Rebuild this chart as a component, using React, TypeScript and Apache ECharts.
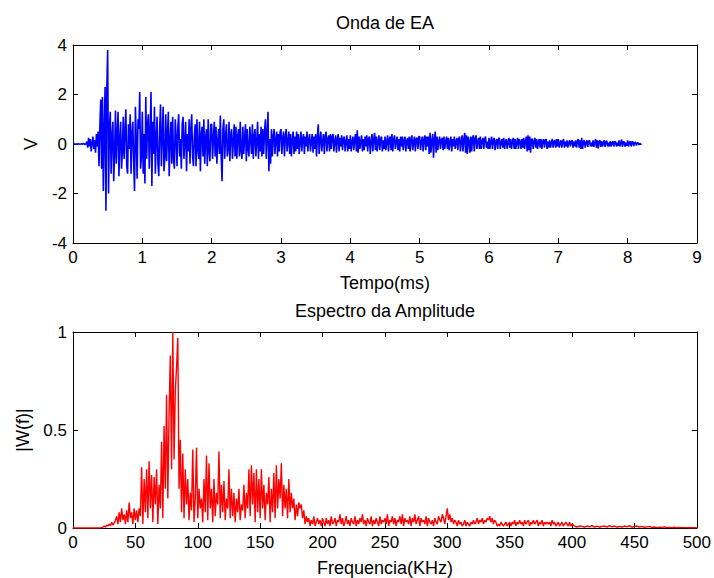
import React, { useEffect, useRef } from "react";
import * as echarts from "echarts";

// ---------- data ----------
// Acoustic emission waveform, sampled every 0.0125 ms (values in V)
const timeStep = 0.0125;
const wave0to1 = [
  0, 0, 0, 0, 0, 0, 0.01, 0, -0.01, 0,
  0.01, -0.01, 0.02, 0, -0.02, 0.02, 0.1, -0.15, 0.25, -0.1,
  0.2, -0.3, 0.05, 0.3, -0.2, 0.15, -0.35, 0.4, -0.1, 0.5,
  -0.9, 0.7, 1.8, -1.0, 1.9, -1.9, 0.5, 2.3, -2.7, 2.2,
  3.8, -2.0, 0.6, 1.3, -1.2, 0.3, 0.9, -1.5, -0.4, 1.35,
  -0.8, 0.4, 1.3, -1.3, 0.2, 0.9, -1.0, -0.3, 1.1, -0.6,
  0.5, 1.4, -0.9, -1.2, 0.8, -0.2, 1.2, -1.2, 0.4, 0.9,
  -0.7, -1.9, 1.5, 0.2, -1.4, 1.0, 0.6, 2.1, -1.0, -0.5,
];
const wave1to2 = [
  1.3, -1.2, 0.4, -1.6, 1.9, -0.6, 0.8, 1.2, -1.0, 0.3,
  2.1, -1.7, 0.9, -0.4, 1.5, -1.2, 0.2, 1.1, -0.8, -1.3,
  0.6, 1.6, -0.9, 0.3, 1.5, -1.1, -0.5, 1.2, -0.7, 0.4,
  1.3, -1.3, 0.1, 0.9, -0.8, 1.1, -0.6, -1.0, 1.0, 0.3,
  -0.9, 0.7, 1.2, -0.5, 0.2, -1.0, 0.8, 1.1, -0.6, 0.1,
  0.9, -1.1, 0.4, -0.3, 1.0, -0.8, 0.6, 1.2, -0.5, -0.9,
  0.3, 0.8, -0.9, 1.0, -0.2, -0.6, 0.9, -1.1, 0.4, 0.7,
  -0.5, 1.0, -0.8, 0.2, 0.6, -0.9, 1.0, -0.3, -0.7, 0.8,
];
const wave2to3 = [
  0.8, -0.6, 0.2, 0.9, -0.5, 0.7, -0.8, 0.1, 0.6, -0.4,
  1.15, -0.5, -1.5, 0.6, 1.0, -0.6, 0.3, 0.8, -0.5, -0.2,
  0.9, -0.7, 0.4, 0.6, -0.6, 0.1, 0.8, -0.5, 0.7, -0.6,
  0.3, 0.6, -0.5, 0.9, -0.3, -0.6, 0.7, -0.4, 0.2, 0.8,
  -0.7, 0.6, -0.2, -0.5, 0.7, 0.2, -0.4, 0.8, -0.6, 0.3,
  0.6, -0.5, 0.1, 0.9, -0.6, 0.4, -0.3, 0.7, -0.5, 0.6,
  -0.4, 0.5, 1.0, -0.6, 0.4, 1.3, -1.1, 0.2, -0.8, 0.6,
  -0.5, 0.3, 0.6, -0.4, 0.2, 0.5, -0.5, 0.4, -0.3, 0.5,
];
const wave3to4 = [
  0.6, -0.4, 0.2, 0.5, -0.5, 0.3, 0.6, -0.3, 0.1, 0.5,
  -0.4, 0.4, -0.5, 0.2, 0.5, -0.4, 0.3, -0.3, 0.5, -0.2,
  0.4, -0.4, 0.1, 0.5, -0.3, 0.2, 0.4, -0.4, 0.3, -0.1,
  0.5, -0.3, 0.2, 0.4, -0.3, 0.1, 0.4, -0.35, 0.3, -0.2,
  0.4, -0.5, 0.3, 0.8, -0.4, 0.2, 0.5, -0.3, 0.1, 0.4,
  -0.4, 0.3, 0.5, -0.3, 0.2, 0.35, -0.3, 0.4, -0.2, 0.3,
  0.4, -0.3, 0.1, 0.35, -0.35, 0.2, 0.4, -0.3, 0.25, -0.1,
  0.35, -0.25, 0.2, 0.3, -0.3, 0.1, 0.35, -0.3, 0.2, -0.2,
];
const wave4to5 = [
  0.35, -0.3, 0.1, 0.3, -0.25, 0.2, 0.4, -0.3, 0.55, -0.35,
  0.3, -0.2, 0.1, 0.35, -0.3, 0.2, -0.25, 0.3, -0.1, 0.35,
  -0.3, 0.2, 0.3, -0.4, 0.1, 0.4, -0.3, 0.2, 0.45, -0.25,
  0.3, -0.3, 0.1, 0.35, -0.25, 0.2, 0.3, -0.3, 0.15, -0.2,
  0.3, -0.25, 0.1, 0.35, -0.3, 0.2, 0.3, -0.25, 0.4, -0.3,
  0.2, 0.35, -0.2, 0.1, 0.3, -0.25, 0.2, -0.3, 0.3, -0.1,
  0.3, -0.25, 0.15, 0.3, -0.3, 0.1, 0.25, -0.2, 0.3, -0.3,
  0.2, 0.35, -0.25, 0.1, 0.3, -0.3, 0.2, 0.25, -0.2, 0.3,
];
const wave5to6 = [
  0.3, -0.25, 0.1, 0.3, -0.3, 0.2, 0.35, -0.25, 0.3, -0.1,
  0.3, -0.4, 0.45, -0.35, 0.1, 0.4, -0.55, 0.2, 0.5, -0.35,
  0.3, -0.25, 0.1, 0.3, -0.2, 0.15, 0.25, -0.25, 0.3, -0.2,
  0.1, 0.3, -0.2, 0.25, -0.25, 0.1, 0.3, -0.3, 0.2, -0.1,
  0.3, -0.2, 0.1, 0.25, -0.25, 0.2, 0.3, -0.3, 0.1, 0.35,
  -0.3, 0.2, 0.45, -0.35, 0.35, -0.4, 0.3, 0.1, -0.35, 0.3,
  -0.3, 0.25, 0.35, -0.3, 0.2, 0.35, -0.2, 0.1, 0.25, -0.2,
  0.3, -0.2, 0.1, 0.25, -0.2, 0.2, 0.3, -0.15, 0.1, -0.2,
];
const wave6to7 = [
  0.25, -0.2, 0.1, 0.3, -0.2, 0.15, 0.25, -0.25, 0.1, 0.2,
  -0.2, 0.2, 0.25, -0.2, 0.05, 0.2, -0.15, 0.25, -0.2, 0.1,
  0.2, -0.2, 0.1, 0.25, -0.15, 0.2, -0.2, 0.1, 0.25, -0.2,
  0.2, -0.2, 0.05, 0.25, -0.2, 0.2, 0.1, -0.2, 0.2, -0.15,
  0.25, -0.2, 0.1, 0.3, -0.3, 0.35, -0.25, 0.3, -0.35, 0.2,
  0.2, -0.2, 0.1, 0.25, -0.15, 0.2, -0.2, 0.05, 0.2, -0.15,
  0.2, -0.2, 0.1, 0.2, -0.15, 0.15, 0.2, -0.2, 0.1, -0.15,
  0.15, -0.15, 0.05, 0.2, -0.15, 0.1, 0.15, -0.15, 0.2, -0.1,
];
const wave7to8 = [
  0.2, -0.15, 0.05, 0.15, -0.15, 0.1, 0.2, -0.15, 0.1, -0.1,
  0.15, -0.15, 0.05, 0.15, -0.1, 0.1, 0.15, -0.15, 0.1, -0.1,
  0.15, -0.15, 0.1, 0.2, -0.15, 0.15, -0.2, 0.25, -0.2, 0.1,
  0.15, -0.15, 0.05, 0.15, -0.12, 0.1, 0.15, -0.1, 0.05, -0.1,
  0.15, -0.12, 0.05, 0.2, -0.15, 0.15, -0.18, 0.1, 0.15, -0.12,
  0.12, -0.1, 0.05, 0.15, -0.12, 0.1, 0.12, -0.1, 0.05, -0.1,
  0.12, -0.1, 0.05, 0.12, -0.1, 0.08, 0.1, -0.1, 0.05, -0.08,
  0.15, -0.1, 0.05, 0.18, -0.12, 0.1, 0.08, -0.1, 0.05, -0.08,
];
const wave8toEnd = [
  0.15, -0.1, 0.05, 0.12, -0.1, 0.08, 0.1, -0.08, 0.05, 0.08,
  -0.06, 0.04, 0.05, -0.04, 0.03, -0.02, 0.01,
];

// Amplitude spectrum |W(f)|, 0..400 kHz every 1 kHz
const specStep = 1;
const spec0to49 = [
  0, 0, 0, 0, 0, 0, 0, 0, 0, 0, 0, 0, 0, 0, 0, 0, 0, 0, 0, 0, 0, 0, 0, 0.002, 0.005,
  0.01, 0.005, 0.015, 0.01, 0.02, 0.012, 0.03, 0.015, 0.025, 0.04,
  0.06, 0.02, 0.08, 0.03, 0.1, 0.04, 0.07, 0.02, 0.09, 0.03, 0.13, 0.05, 0.08, 0.02, 0.1,
];
const spec50to99 = [
  0.04, 0.09, 0.03, 0.1, 0.06, 0.31, 0.02, 0.25, 0.08, 0.3,
  0.05, 0.34, 0.1, 0.27, 0.03, 0.26, 0.12, 0.3, 0.02, 0.22,
  0.1, 0.44, 0.05, 0.52, 0.2, 0.68, 0.15, 0.58, 0.88, 0.3,
  1.0, 0.35, 0.7, 0.82, 0.97, 0.2, 0.45, 0.08, 0.38, 0.05,
  0.3, 0.12, 0.25, 0.04, 0.18, 0.09, 0.4, 0.03, 0.15, 0.41,
];
const spec100to149 = [
  0.05, 0.2, 0.1, 0.15, 0.03, 0.25, 0.08, 0.37, 0.04, 0.33,
  0.1, 0.2, 0.03, 0.25, 0.06, 0.18, 0.12, 0.39, 0.05, 0.22,
  0.08, 0.24, 0.04, 0.15, 0.1, 0.3, 0.05, 0.2, 0.06, 0.18,
  0.03, 0.15, 0.08, 0.2, 0.04, 0.12, 0.09, 0.22, 0.05, 0.18,
  0.1, 0.3, 0.06, 0.32, 0.12, 0.28, 0.03, 0.3, 0.08, 0.25,
];
const spec150to200 = [
  0.05, 0.3, 0.1, 0.22, 0.04, 0.18, 0.12, 0.26, 0.03, 0.2,
  0.08, 0.28, 0.05, 0.32, 0.1, 0.25, 0.15, 0.33, 0.06, 0.22,
  0.1, 0.2, 0.05, 0.25, 0.08, 0.18, 0.1, 0.15, 0.04, 0.12,
  0.06, 0.13, 0.1, 0.12, 0.05, 0.09, 0.02, 0.06, 0.03, 0.05,
  0.01, 0.04, 0.02, 0.06, 0.01, 0.03, 0.05, 0.02, 0.04, 0.01, 0.05,
];
const spec201to300 = [
  0.03, 0.01, 0.05, 0.02, 0.04, 0.01, 0.06, 0.02, 0.03, 0.05,
  0.01, 0.04, 0.03, 0.07, 0.02, 0.05, 0.01, 0.03, 0.06, 0.02,
  0.04, 0.01, 0.05, 0.03, 0.02, 0.06, 0.01, 0.04, 0.02, 0.05,
  0.03, 0.07, 0.02, 0.04, 0.01, 0.05, 0.03, 0.02, 0.06, 0.01,
  0.04, 0.02, 0.05, 0.03, 0.01, 0.06, 0.02, 0.04, 0.03, 0.05,
  0.02, 0.07, 0.01, 0.04, 0.03, 0.06, 0.02, 0.05, 0.01, 0.04,
  0.03, 0.06, 0.02, 0.07, 0.01, 0.05, 0.03, 0.04, 0.02, 0.06,
  0.01, 0.05, 0.03, 0.07, 0.02, 0.04, 0.06, 0.01, 0.05, 0.03,
  0.04, 0.02, 0.06, 0.01, 0.05, 0.03, 0.02, 0.04, 0.01, 0.05,
  0.03, 0.02, 0.06, 0.04, 0.03, 0.07, 0.05, 0.02, 0.06, 0.1,
];
const spec301to400 = [
  0.04, 0.07, 0.03, 0.05, 0.02, 0.04, 0.03, 0.01, 0.04, 0.02,
  0.03, 0.01, 0.02, 0.04, 0.01, 0.03, 0.02, 0.01, 0.03, 0.02,
  0.04, 0.02, 0.03, 0.05, 0.02, 0.04, 0.03, 0.05, 0.02, 0.04,
  0.03, 0.05, 0.04, 0.06, 0.03, 0.05, 0.02, 0.04, 0.03, 0.01,
  0.02, 0.01, 0.03, 0.02, 0.01, 0.02, 0.03, 0.01, 0.02, 0.03,
  0.01, 0.03, 0.02, 0.04, 0.01, 0.03, 0.02, 0.04, 0.02, 0.03,
  0.01, 0.04, 0.02, 0.03, 0.04, 0.01, 0.03, 0.02, 0.04, 0.02,
  0.03, 0.04, 0.01, 0.03, 0.02, 0.04, 0.01, 0.03, 0.02, 0.03,
  0.02, 0.03, 0.01, 0.04, 0.02, 0.03, 0.01, 0.02, 0.03, 0.01,
  0.02, 0.03, 0.01, 0.02, 0.03, 0.02, 0.01, 0.03, 0.01, 0.02,
];
// 402..500 kHz every 2 kHz
const specTailStart = 402;
const specTailStep = 2;
const spec402to500 = [
  0.01, 0.005, 0.01, 0.008, 0.004, 0.01, 0.006, 0.012, 0.005, 0.01,
  0.004, 0.008, 0.01, 0.005, 0.012, 0.006, 0.01, 0.004, 0.008, 0.005,
  0.01, 0.006, 0.012, 0.004, 0.008, 0.01, 0.005, 0.008, 0.004, 0.006,
  0.008, 0.003, 0.005, 0.002, 0.004, 0.003, 0.006, 0.002, 0.003, 0.002,
  0.004, 0.002, 0.003, 0.001, 0.002, 0.002, 0.001, 0.002, 0.001, 0.001,
];

const timeTicks = { min: 0, max: 9, interval: 1 };
const voltTicks = { min: -4, max: 4, interval: 2 };
const freqTicks = { min: 0, max: 500, interval: 50 };
const ampTicks = { min: 0, max: 1, interval: 0.5 };

const titles = ["Onda de EA", "Espectro da Amplitude"];
const xNames = ["Tempo(ms)", "Frequencia(KHz)"];
const yNames = ["V", "|W(f)|"];

// ---------- build ----------
const waveValues = [
  ...wave0to1, ...wave1to2, ...wave2to3, ...wave3to4,
  ...wave4to5, ...wave5to6, ...wave6to7, ...wave7to8, ...wave8toEnd,
];
const waveData = waveValues.map((v, i) => [+(i * timeStep).toFixed(4), v]);
const specMain = [
  ...spec0to49, ...spec50to99, ...spec100to149, ...spec150to200,
  ...spec201to300, ...spec301to400,
];
const specData = [
  ...specMain.map((v, i) => [i * specStep, v]),
  ...spec402to500.map((v, i) => [specTailStart + i * specTailStep, v]),
];

const FONT = "'Liberation Sans', Arial, Helvetica, sans-serif";
const TICK_FS = 17;
const NAME_FS = 18;

const gridBox = [
  { left: 73, top: 45, width: 624, height: 198 },
  { left: 73, top: 332, width: 624, height: 197 },
];

function xAx(grid: number, ticks: any, name: string, top: boolean) {
  return {
    gridIndex: grid,
    type: "value",
    position: top ? "top" : "bottom",
    ...ticks,
    name: top ? "" : name,
    nameLocation: "middle",
    nameGap: 31,
    nameTextStyle: { color: "#000", fontSize: NAME_FS, fontFamily: FONT },
    axisLine: { show: true, onZero: false, lineStyle: { color: "#000", width: 1 } },
    axisTick: { show: true, inside: true, length: 5, lineStyle: { color: "#000" } },
    axisLabel: { show: !top, color: "#000", fontSize: TICK_FS, fontFamily: FONT, margin: 6 },
    splitLine: { show: false },
  };
}
function yAx(grid: number, ticks: any, name: string, right: boolean) {
  return {
    gridIndex: grid,
    type: "value",
    position: right ? "right" : "left",
    ...ticks,
    name: right ? "" : name,
    nameLocation: "middle",
    nameGap: 33,
    nameTextStyle: { color: "#000", fontSize: NAME_FS, fontFamily: FONT },
    axisLine: { show: true, onZero: false, lineStyle: { color: "#000", width: 1 } },
    axisTick: { show: true, inside: true, length: 5, lineStyle: { color: "#000" } },
    axisLabel: { show: !right, color: "#000", fontSize: TICK_FS, fontFamily: FONT, margin: 6 },
    splitLine: { show: false },
  };
}

const option: any = {
  animation: false,
  backgroundColor: "#fff",
  grid: gridBox,
  xAxis: [
    xAx(0, timeTicks, xNames[0], false),
    xAx(0, timeTicks, xNames[0], true),
    xAx(1, freqTicks, xNames[1], false),
    xAx(1, freqTicks, xNames[1], true),
  ],
  yAxis: [
    yAx(0, voltTicks, yNames[0], false),
    yAx(0, voltTicks, yNames[0], true),
    yAx(1, ampTicks, yNames[1], false),
    yAx(1, ampTicks, yNames[1], true),
  ],
  graphic: [
    {
      type: "text", x: 385, y: 23,
      style: { text: titles[0], fontSize: NAME_FS, fontFamily: FONT, fill: "#000", textAlign: "center", textVerticalAlign: "middle" },
    },
    {
      type: "text", x: 385, y: 311,
      style: { text: titles[1], fontSize: NAME_FS, fontFamily: FONT, fill: "#000", textAlign: "center", textVerticalAlign: "middle" },
    },
  ],
  series: [
    {
      type: "line", xAxisIndex: 0, yAxisIndex: 0, data: waveData,
      showSymbol: false, symbol: "none",
      lineStyle: { color: "#0000ff", width: 1.6 }, itemStyle: { color: "#0000ff" },
    },
    {
      type: "line", xAxisIndex: 2, yAxisIndex: 2, data: specData,
      showSymbol: false, symbol: "none",
      lineStyle: { color: "#ff0000", width: 1.4 }, itemStyle: { color: "#ff0000" },
    },
  ],
};

export default function App() {
  const ref = useRef<HTMLDivElement>(null);
  useEffect(() => {
    const chart = echarts.init(ref.current!, null, { renderer: "svg" });
    chart.setOption(option);
    return () => chart.dispose();
  }, []);
  return (
    <div
      ref={ref}
      style={{ position: "fixed", left: 0, top: 0, width: 714, height: 578, background: "#fff" }}
    />
  );
}
